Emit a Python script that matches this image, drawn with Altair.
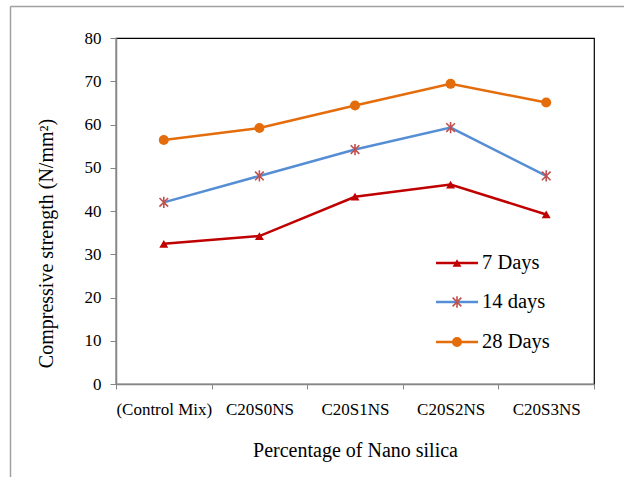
import altair as alt
import pandas as pd

categories = ["(Control Mix)", "C20S0NS", "C20S1NS", "C20S2NS", "C20S3NS"]
series_names = ["7 Days", "14 days", "28 Days"]
days7 = [32.4, 34.2, 43.3, 46.1, 39.2]
days14 = [42.0, 48.1, 54.2, 59.3, 48.1]
days28 = [56.4, 59.2, 64.4, 69.4, 65.1]

rows = []
for name, vals in zip(series_names, [days7, days14, days28]):
    for c, v in zip(categories, vals):
        rows.append({"category": c, "series": name, "value": v})
df = pd.DataFrame(rows)

FONT = "Liberation Serif"
C7 = "#C00000"
C14 = "#558ED5"
C14M = "#C0504D"
C28 = "#E46C0A"
ASTER = "M-1,-1L1,1M-1,1L1,-1M0,-1.3L0,1.3"

x_enc = alt.X(
    "category:N",
    sort=categories,
    scale=alt.Scale(type="band", paddingInner=0, paddingOuter=0),
    bandPosition=0.5,
    axis=alt.Axis(
        title="Percentage of Nano silica",
        tickBand="extent",
        labelAngle=0,
        labelFont=FONT,
        labelFontSize=17,
        labelColor="#000",
        labelPadding=12,
        tickSize=5,
        tickColor="#868686",
        domainColor="#868686",
        domainWidth=1.5,
        titleFont=FONT,
        titleFontSize=20,
        titleFontWeight="normal",
        titleColor="#000",
        titleBaseline="middle",
        titleY=66,
        grid=False,
    ),
)
y_enc = alt.Y(
    "value:Q",
    scale=alt.Scale(domain=[0, 80], nice=False, zero=True),
    axis=alt.Axis(
        title="Compressive strength (N/mm²)",
        values=[0, 10, 20, 30, 40, 50, 60, 70, 80],
        labelFont=FONT,
        labelFontSize=17,
        labelColor="#000",
        labelPadding=9,
        tickSize=6,
        tickColor="#868686",
        domainColor="#868686",
        domainWidth=1.5,
        titleFont=FONT,
        titleFontSize=20,
        titleFontWeight="normal",
        titleColor="#000",
        titleBaseline="middle",
        titleX=-70,
        titleY=205,
        grid=False,
    ),
)

base = alt.Chart(df)

lines = base.mark_line(strokeWidth=2.5).encode(
    x=x_enc,
    y=y_enc,
    color=alt.Color(
        "series:N",
        scale=alt.Scale(domain=series_names, range=[C7, C14, C28]),
        legend=None,
    ),
    detail="series:N",
)

p7 = base.transform_filter(alt.datum.series == "7 Days").mark_point(
    shape="triangle-up", filled=True, size=80, color=C7, opacity=1
).encode(x=x_enc, y=y_enc)
p14 = base.transform_filter(alt.datum.series == "14 days").mark_point(
    shape=ASTER, filled=False, size=75, color=C14M, strokeWidth=1.6, opacity=1
).encode(x=x_enc, y=y_enc)
p28 = base.transform_filter(alt.datum.series == "28 Days").mark_point(
    shape="circle", filled=True, size=100, color=C28, opacity=1
).encode(x=x_enc, y=y_enc)

# manual legend
leg_y = [225, 264, 304]
leg_layers = []
shapes = [("triangle-up", True, 80, C7, C7), (ASTER, False, 75, C14M, C14), ("circle", True, 100, C28, C28)]
for name, yy, (shp, fil, sz, mcol, lcol) in zip(series_names, leg_y, shapes):
    ld = alt.Chart(pd.DataFrame({"label": [name]}))
    leg_layers.append(
        ld.mark_rule(strokeWidth=2.5, color=lcol).encode(
            x=alt.value(320), x2=alt.value(362), y=alt.value(yy)
        )
    )
    leg_layers.append(
        ld.mark_point(shape=shp, filled=fil, size=sz, color=mcol, opacity=1,
                      strokeWidth=1.6).encode(x=alt.value(341), y=alt.value(yy))
    )
    leg_layers.append(
        ld.mark_text(align="left", baseline="middle", font=FONT, fontSize=20.5,
                     color="#000").encode(
            x=alt.value(366), y=alt.value(yy), text="label:N"
        )
    )

# outer frame lines
fd = alt.Chart(pd.DataFrame({"k": [0]}))
frame_top = fd.mark_rule(color="#A0A0A0", strokeWidth=1.5).encode(
    x=alt.value(-105.5), x2=alt.value(520), y=alt.value(-31.5)
)
frame_left = fd.mark_rule(color="#A0A0A0", strokeWidth=1.5).encode(
    x=alt.value(-105.5), y=alt.value(-31.5), y2=alt.value(500)
)

chart = (
    alt.layer(lines, p7, p14, p28, *leg_layers, frame_top, frame_left)
    .properties(
        width=478,
        height=346,
        autosize=alt.AutoSizeParams(type="none"),
        padding={"left": 116, "top": 38, "right": 30, "bottom": 93},
        background="white",
    )
    .configure_view(stroke="#000", strokeWidth=1.2)
)

chart.save("out.html", embed_options={"renderer": "svg", "actions": False})
